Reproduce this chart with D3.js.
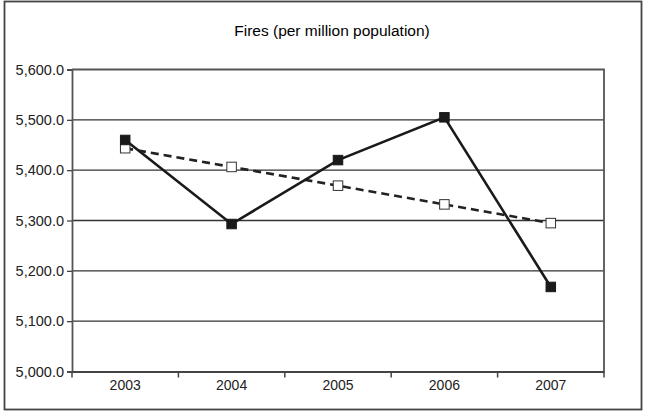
<!DOCTYPE html>
<html><head><meta charset="utf-8">
<script src="https://cdn.jsdelivr.net/npm/d3@7"></script>
<style>
body{margin:0;background:#fff;}
svg{display:block;font-family:"Liberation Sans",Arial,sans-serif;}
</style></head>
<body><svg id="c" width="645" height="412"></svg>
<script>
const years = ["2003","2004","2005","2006","2007"];
const fires = [5460, 5293, 5420, 5505, 5168];
const trend = [5443.6, 5406.4, 5369.2, 5332.0, 5294.8];
const yTicks = [5000, 5100, 5200, 5300, 5400, 5500, 5600];
const title = "Fires (per million population)";

const svg = d3.select("#c");
const L = 72, R = 604, T = 69.5, B = 371.5;

svg.append("rect").attr("x",4.5).attr("y",1.5).attr("width",637).attr("height",408)
  .attr("fill","#fff").attr("stroke","#444").attr("stroke-width",1.8);

const x = d3.scaleBand().domain(years).range([L,R]).padding(0);
const y = d3.scaleLinear().domain([5000,5600]).range([B,T]);

svg.append("g").selectAll("line").data(yTicks.filter(d=>d>5000 && d<5600)).join("line")
  .attr("x1",L).attr("x2",R).attr("y1",d=>y(d)).attr("y2",d=>y(d))
  .attr("stroke","#333").attr("stroke-width",1.3);

svg.append("path").attr("d",`M${L},${T}H${R}V${B}`).attr("fill","none")
  .attr("stroke","#555").attr("stroke-width",1.8);

const ya = svg.append("g").attr("transform",`translate(${L},0)`)
  .call(d3.axisLeft(y).tickValues(yTicks).tickSize(5).tickPadding(3).tickFormat(d3.format(",.1f")));
ya.select(".domain").attr("stroke","#555").attr("stroke-width",1.8);
ya.selectAll(".tick line").attr("stroke","#444").attr("stroke-width",1.3);
ya.selectAll("text").attr("font-size",14.5).attr("fill","#222").attr("font-family","Liberation Sans, Arial, sans-serif");

const xa = svg.append("g").attr("transform",`translate(0,${B})`)
  .call(d3.axisBottom(x).tickSize(0).tickPadding(9));
xa.select(".domain").attr("stroke","#444").attr("stroke-width",1.8);
xa.selectAll("text").attr("font-size",14).attr("fill","#222").attr("font-family","Liberation Sans, Arial, sans-serif");
const bounds = years.map(d=>x(d)).concat([x(years[years.length-1])+x.bandwidth()]);
svg.append("g").selectAll("line").data(bounds).join("line")
  .attr("x1",d=>d).attr("x2",d=>d).attr("y1",B).attr("y2",B+6)
  .attr("stroke","#444").attr("stroke-width",1.5);

const cx = d => x(d)+x.bandwidth()/2;

const line = d3.line().x((d,i)=>cx(years[i])).y(d=>y(d));
svg.append("path").datum(trend).attr("d",line).attr("fill","none")
  .attr("stroke","#222").attr("stroke-width",2.6).attr("stroke-dasharray","8,5");
svg.append("path").datum(fires).attr("d",line).attr("fill","none")
  .attr("stroke","#1a1a1a").attr("stroke-width",2.6);

const s = 9.5;
svg.append("g").selectAll("rect").data(trend).join("rect")
  .attr("x",(d,i)=>cx(years[i])-s/2).attr("y",d=>y(d)-s/2).attr("width",s).attr("height",s)
  .attr("fill","#fff").attr("stroke","#333").attr("stroke-width",1);
svg.append("g").selectAll("rect").data(fires).join("rect")
  .attr("x",(d,i)=>cx(years[i])-s/2).attr("y",d=>y(d)-s/2).attr("width",s).attr("height",s)
  .attr("fill","#1a1a1a").attr("stroke","#1a1a1a").attr("stroke-width",1);

svg.append("text").attr("x",332).attr("y",36).attr("text-anchor","middle")
  .attr("font-size",15.5).attr("fill","#000").text(title);
</script></body></html>
